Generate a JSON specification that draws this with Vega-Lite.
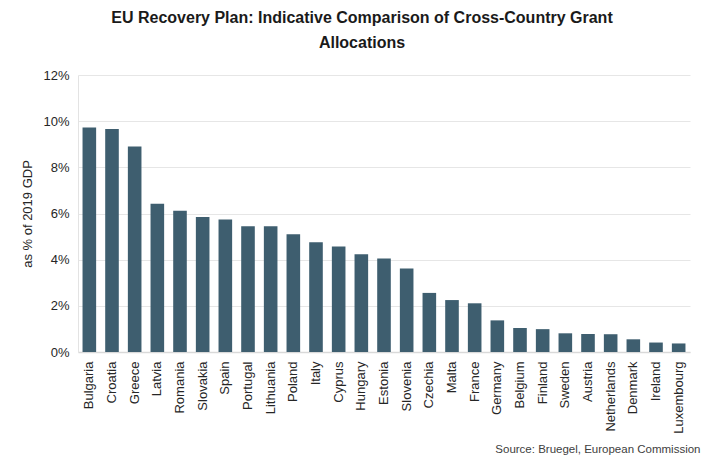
{
  "$schema": "https://vega.github.io/schema/vega-lite/v6.json",
  "width": 612,
  "height": 277,
  "autosize": {"type": "none"},
  "padding": {"left": 78, "top": 75, "right": 17, "bottom": 107},
  "background": "white",
  "title": {
    "text": ["EU Recovery Plan: Indicative Comparison of Cross-Country Grant", "Allocations"],
    "font": "Liberation Sans",
    "fontSize": 16,
    "fontWeight": "bold",
    "color": "#1a1a1a",
    "anchor": "middle",
    "dx": -22,
    "lineHeight": 25,
    "offset": 18
  },
  "data": {
    "values": [
      {"country": "Bulgaria", "value": 9.73},
      {"country": "Croatia", "value": 9.66},
      {"country": "Greece", "value": 8.9},
      {"country": "Latvia", "value": 6.42},
      {"country": "Romania", "value": 6.12},
      {"country": "Slovakia", "value": 5.85},
      {"country": "Spain", "value": 5.74},
      {"country": "Portugal", "value": 5.45},
      {"country": "Lithuania", "value": 5.45},
      {"country": "Poland", "value": 5.1},
      {"country": "Italy", "value": 4.75},
      {"country": "Cyprus", "value": 4.57},
      {"country": "Hungary", "value": 4.24},
      {"country": "Estonia", "value": 4.05},
      {"country": "Slovenia", "value": 3.62},
      {"country": "Czechia", "value": 2.56},
      {"country": "Malta", "value": 2.25},
      {"country": "France", "value": 2.11},
      {"country": "Germany", "value": 1.37},
      {"country": "Belgium", "value": 1.04},
      {"country": "Finland", "value": 0.99},
      {"country": "Sweden", "value": 0.81},
      {"country": "Austria", "value": 0.78},
      {"country": "Netherlands", "value": 0.77},
      {"country": "Denmark", "value": 0.55},
      {"country": "Ireland", "value": 0.41},
      {"country": "Luxembourg", "value": 0.37}
    ]
  },
  "mark": {"type": "bar", "color": "#3e5e6f"},
  "encoding": {
    "x": {
      "field": "country",
      "type": "nominal",
      "sort": null,
      "scale": {"paddingInner": 0.4, "paddingOuter": 0.2},
      "axis": {
        "title": "Source: Bruegel, European Commission",
        "titleFont": "Liberation Sans",
        "titleFontSize": 11.5,
        "titleFontWeight": "normal",
        "titleColor": "#404040",
        "titleAnchor": "end",
        "titleAlign": "right",
        "titleBaseline": "middle",
        "titleX": 622,
        "titleY": 97,
        "labelAngle": -90,
        "labelFont": "Liberation Sans",
        "labelFontSize": 13,
        "labelColor": "#262626",
        "labelPadding": 9,
        "ticks": false,
        "domainColor": "#d9d9d9",
        "domainWidth": 1.5,
        "grid": false
      }
    },
    "y": {
      "field": "value",
      "type": "quantitative",
      "scale": {"domain": [0, 12], "nice": false},
      "axis": {
        "title": "as % of 2019 GDP",
        "titleFont": "Liberation Sans",
        "titleFontSize": 13,
        "titleFontWeight": "normal",
        "titleColor": "#262626",
        "titlePadding": 8,
        "values": [0, 2, 4, 6, 8, 10, 12],
        "labelExpr": "datum.value + '%'",
        "labelFont": "Liberation Sans",
        "labelFontSize": 13,
        "labelColor": "#262626",
        "labelPadding": 9,
        "ticks": false,
        "domainColor": "#e3e3e3",
        "grid": true,
        "gridColor": "#e6e6e6",
        "gridWidth": 1
      }
    }
  },
  "config": {
    "view": {"stroke": null}
  }
}
